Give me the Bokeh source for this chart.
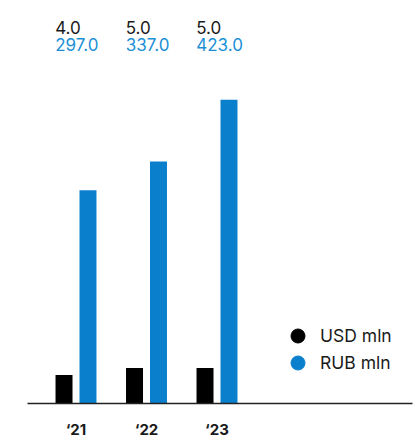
from bokeh.plotting import figure
from bokeh.models import (ColumnDataSource, Range1d, FixedTicker, Legend, LegendItem,
                          CDSView, IndexFilter)
from bokeh.transform import dodge
from bokeh.core.properties import value
from bokeh.embed import file_html
from bokeh.resources import INLINE

# ---- data ----
years = ["\u201821", "\u201822", "\u201823"]
usd_mln = [4.0, 5.0, 5.0]
rub_mln = [297.0, 337.0, 423.0]
series_names = ["USD mln", "RUB mln"]

BLACK = "#000000"
BLUE = "#0a80cc"
BLUE_TXT = "#1b8fd6"
FONT = "Inter"

idx = list(range(len(years)))
src = ColumnDataSource(dict(
    x=idx,
    usd=usd_mln,
    rub=rub_mln,
    usd_txt=[f"{v:.1f}" for v in usd_mln],
    rub_txt=[f"{v:.1f}" for v in rub_mln],
    top_row=[376.5] * len(idx),
    sub_row=[359.5] * len(idx),
))

p = figure(width=420, height=442, output_backend="svg", toolbar_location=None,
           x_range=Range1d(-0.688, 4.773), y_range=Range1d(0, 561.3),
           min_border_left=27, min_border_right=8, min_border_top=0,
           min_border_bottom=39)
p.extra_y_ranges = {"usd": Range1d(0, 56.8), "lbl": Range1d(0, 403),
                    "off": Range1d(1000, 2000)}

p.vbar(x=dodge("x", -0.170, range=p.x_range), top="usd", width=0.241, bottom=0,
       source=src, fill_color=BLACK, line_color=None, y_range_name="usd")
p.vbar(x=dodge("x", 0.170, range=p.x_range), top="rub", width=0.241, bottom=0,
       source=src, fill_color=BLUE, line_color=None)

p.text(x=dodge("x", -0.295, range=p.x_range), y="top_row", text="usd_txt", source=src,
       y_range_name="lbl", text_font=value(FONT), text_font_size="17px",
       text_color="#1a1a1a", text_align="left", text_baseline="alphabetic")
p.text(x=dodge("x", -0.295, range=p.x_range), y="sub_row", text="rub_txt", source=src,
       y_range_name="lbl", text_font=value(FONT), text_font_size="17px",
       text_color=BLUE_TXT, text_align="left", text_baseline="alphabetic")

# legend-only renderers: one point each, mapped far outside the frame (clipped)
r_usd = p.scatter(x="x", y="usd", source=src, view=CDSView(filter=IndexFilter([0])),
                  marker="circle", fill_color=BLACK, line_color=BLACK, y_range_name="off")
r_rub = p.scatter(x="x", y="rub", source=src, view=CDSView(filter=IndexFilter([0])),
                  marker="circle", fill_color=BLUE, line_color=BLUE, y_range_name="off")

legend_style = dict(glyph_width=35, glyph_height=35, padding=0, margin=0,
                    label_standoff=5, label_text_font=FONT,
                    label_text_font_size="17.5px", label_text_color="#1a1a1a",
                    border_line_alpha=0, background_fill_alpha=0)
for renderer, name, loc in [(r_usd, series_names[0], (253, 50)),
                            (r_rub, series_names[1], (253, 23))]:
    p.add_layout(Legend(items=[LegendItem(label=name, renderers=[renderer])],
                        location=loc, **legend_style))

p.xaxis.ticker = FixedTicker(ticks=idx)
p.xaxis.major_label_overrides = {i: years[i] for i in idx}
p.xaxis.major_label_text_font = FONT
p.xaxis.major_label_text_font_size = "15px"
p.xaxis.major_label_text_font_style = "bold"
p.xaxis.major_label_text_color = "#1a1a1a"
p.xaxis.major_label_text_line_height = 0.9
p.xaxis.major_label_standoff = 16
p.xaxis.major_tick_out = 0
p.xaxis.major_tick_in = 0
p.xaxis.minor_tick_out = 0
p.xaxis.minor_tick_in = 0
p.xaxis.major_tick_line_color = None
p.xaxis.minor_tick_line_color = None
p.xaxis.axis_line_color = "#222222"
p.xaxis.axis_line_width = 1.5
p.yaxis.visible = False
p.grid.visible = False
p.outline_line_color = None

open("out.html", "w").write(file_html(p, INLINE))
